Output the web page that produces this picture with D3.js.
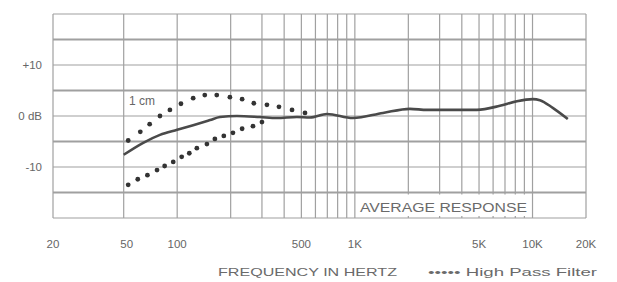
<!DOCTYPE html>
<style>
body { margin: 0; background: #fff; }
</style>
<svg width="617" height="282" font-family="Liberation Sans, Arial, sans-serif" font-size="11"></svg>
<script src="https://d3js.org/d3.v7.min.js"></script>
<script>

// grid and tick values
const gridFreqs = [20, 50, 100, 200, 300, 400, 500, 600, 700, 800, 900, 1000,
	2000, 3000, 4000, 5000, 6000, 7000, 8000, 9000, 10000, 20000];
const gridDb = [-20, -15, -10, -5, 0, 5, 10, 15, 20];
const xTickValues = [20, 50, 100, 500, 1000, 5000, 10000, 20000];
const xTickLabels = ['20', '50', '100', '500', '1K', '5K', '10K', '20K'];
const yTickValues = [10, 0, -10];
const yTickLabels = ['+10', '0 dB', '-10'];

// average response (solid)
const avgFreq = [50, 64, 80, 100, 123, 153, 174, 217, 292, 364, 472, 558, 697, 975,
	1440, 2040, 2550, 3430, 4870, 6550, 8170, 10050, 11000, 13000, 15800];
const avgDb = [-7.6, -5.3, -3.7, -2.7, -1.8, -0.8, -0.2, 0, -0.2, -0.4, -0.2, -0.3, 0.4, -0.4,
	0.6, 1.4, 1.2, 1.2, 1.2, 2.0, 2.9, 3.3, 3.1, 1.6, -0.6];

// 1 cm (dotted, upper)
const closeFreq = [53, 62, 70, 80, 91, 105, 123, 143, 167, 198, 232, 270, 320, 374, 443, 524];
const closeDb = [-4.8, -3.1, -1.6, 0, 1.2, 2.4, 3.5, 4.1, 4.1, 3.7, 3.3, 2.5, 2.2, 1.8, 1.2, 0.6];

// high pass filter (dotted, lower)
const hpfFreq = [53, 60, 68, 77, 85, 95, 106, 117, 129, 147, 163, 183, 206, 232, 267, 300];
const hpfDb = [-13.5, -12.4, -11.6, -10.6, -9.8, -9.0, -8.0, -7.3, -6.3, -5.5, -4.5, -3.9, -3.3, -2.5, -2.0, -1.2];

const svg = d3.select('svg');
const x = d3.scaleLog().domain([20, 20000]).range([53, 586]);
const y = d3.scaleLinear().domain([-20, 20]).range([218, 14]);

const grid = svg.append('g');
grid.selectAll('.hline')
	.data(gridDb)
	.enter().append('line')
	.attr('x1', x(20)).attr('x2', x(20000))
	.attr('y1', (d) => y(d)).attr('y2', (d) => y(d))
	.attr('stroke', '#a0a0a0')
	.attr('stroke-width', (d) => (d % 10 === 0 ? 1.2 : 1.8));
grid.selectAll('.vline')
	.data(gridFreqs)
	.enter().append('line')
	.attr('x1', (d) => x(d)).attr('x2', (d) => x(d))
	.attr('y1', y(20)).attr('y2', y(-20))
	.attr('stroke', '#a0a0a0')
	.attr('stroke-width', 1.2);

// label box
svg.append('rect')
	.attr('x', 356).attr('y', y(-15) + 2)
	.attr('width', 174).attr('height', y(-20) - y(-15) - 4)
	.attr('fill', '#fff');
svg.append('text')
	.attr('x', 360).attr('y', 212)
	.attr('font-size', 12.5)
	.attr('fill', '#6a6a6a')
	.attr('textLength', 167)
	.attr('lengthAdjust', 'spacingAndGlyphs')
	.text('AVERAGE RESPONSE');

const line = d3.line()
	.x((d) => x(d[0]))
	.y((d) => y(d[1]))
	.curve(d3.curveMonotoneX);

svg.append('path')
	.datum(d3.zip(avgFreq, avgDb))
	.attr('d', line)
	.attr('fill', 'none')
	.attr('stroke', '#4a4a4a')
	.attr('stroke-width', 2.6);

[[closeFreq, closeDb], [hpfFreq, hpfDb]].forEach(([fs, ds]) => {
	svg.append('g').selectAll('circle')
		.data(d3.zip(fs, ds))
		.enter().append('circle')
		.attr('cx', (d) => x(d[0]))
		.attr('cy', (d) => y(d[1]))
		.attr('r', 2.4)
		.attr('fill', '#333');
});

svg.append('text')
	.attr('x', 129).attr('y', 105)
	.attr('font-size', 12)
	.attr('fill', '#666')
	.text('1 cm');

// y labels
svg.selectAll('.ylab')
	.data(yTickValues)
	.enter().append('text')
	.attr('x', 42)
	.attr('y', (d) => y(d) + 4)
	.attr('text-anchor', 'end')
	.attr('font-size', 11.5)
	.attr('fill', '#666')
	.text((d, i) => yTickLabels[i]);

// x labels
svg.selectAll('.xlab')
	.data(xTickValues)
	.enter().append('text')
	.attr('x', (d) => x(d) + (d === 50 ? 3 : 0))
	.attr('y', 248)
	.attr('text-anchor', 'middle')
	.attr('font-size', 11.5)
	.attr('fill', '#666')
	.text((d, i) => xTickLabels[i]);

svg.append('text')
	.attr('x', 218).attr('y', 276)
	.attr('font-size', 11)
	.attr('fill', '#6a6a6a')
	.attr('textLength', 179)
	.attr('lengthAdjust', 'spacingAndGlyphs')
	.text('FREQUENCY IN HERTZ');
svg.append('text')
	.attr('x', 428).attr('y', 276)
	.attr('font-size', 11)
	.attr('fill', '#6a6a6a')
	.attr('textLength', 169)
	.attr('lengthAdjust', 'spacingAndGlyphs')
	.text('\u2022\u2022\u2022\u2022\u2022 High Pass Filter');

</script>
